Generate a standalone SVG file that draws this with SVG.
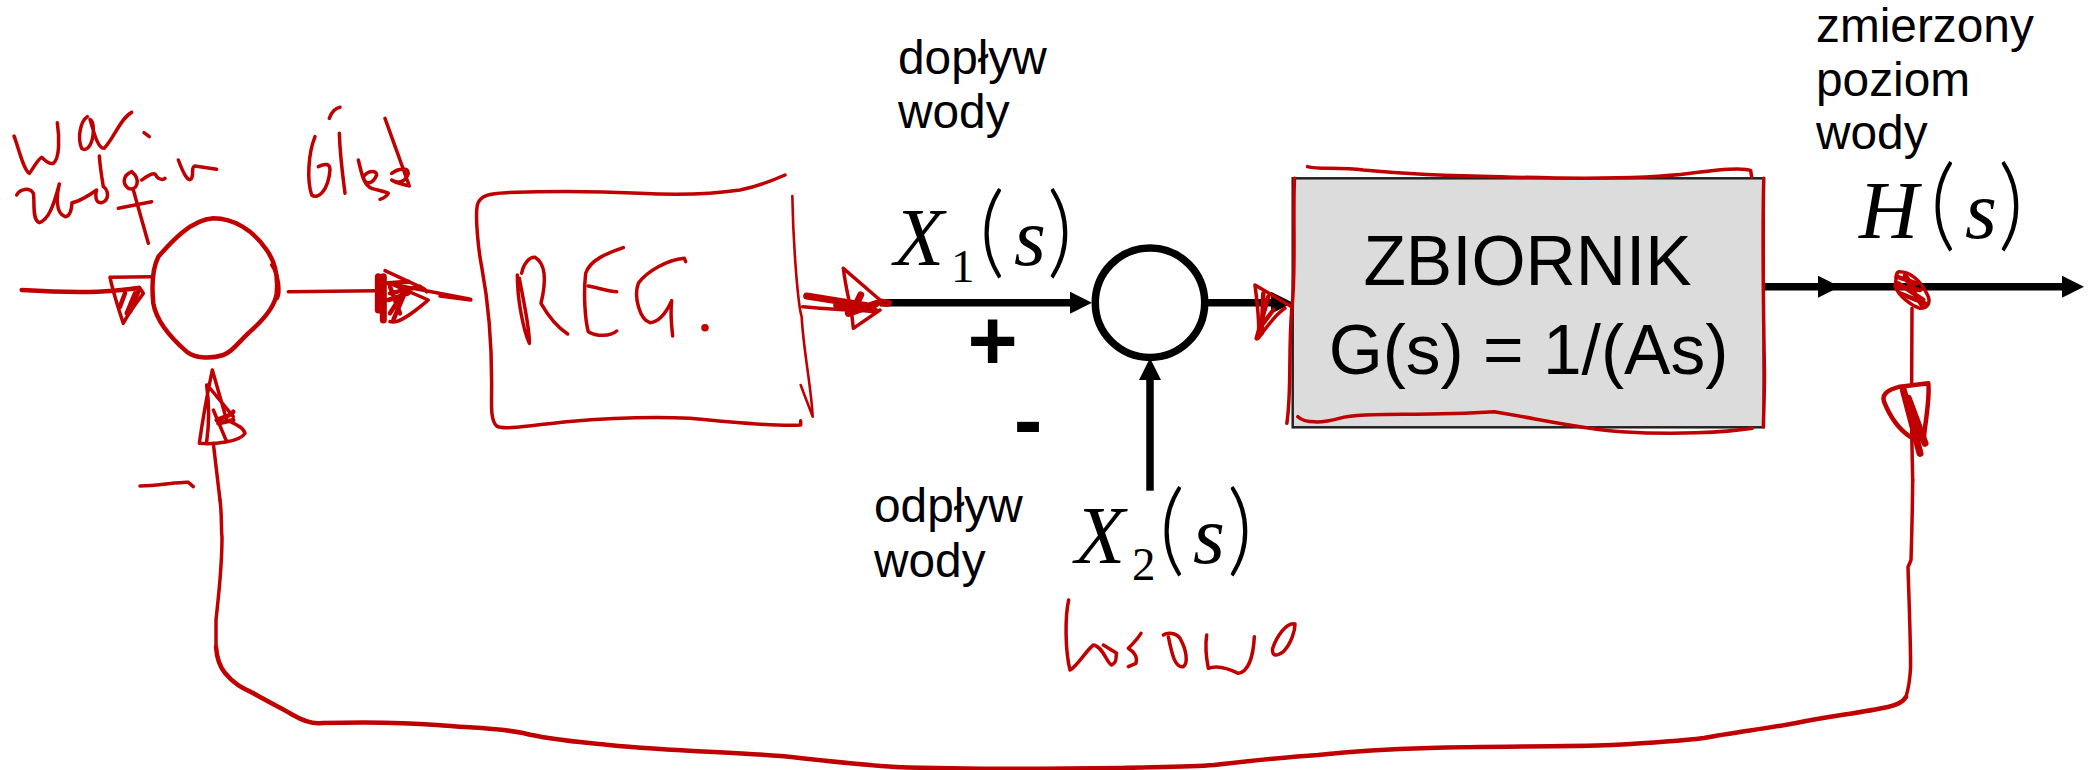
<svg xmlns="http://www.w3.org/2000/svg" width="2096" height="770" viewBox="0 0 2096 770">
<style>
.ink{fill:none;stroke:#c00000;stroke-linecap:round;stroke-linejoin:round;vector-effect:non-scaling-stroke}
.ink path,.ink circle{vector-effect:non-scaling-stroke}
.w2{stroke-width:2.6}.w3{stroke-width:3.5}.w4{stroke-width:4.5}.w6{stroke-width:7}
.wire{fill:none;stroke:#000;stroke-width:7.5}
.lbl{font-family:"Liberation Sans",Arial,sans-serif;font-size:47.8px;fill:#000}
.big{font-family:"Liberation Sans",Arial,sans-serif;font-size:69.5px;fill:#000;text-anchor:middle}
.sign{font-family:"Liberation Sans",Arial,sans-serif;font-size:86px;font-weight:700;fill:#000;text-anchor:middle}
.math{font-family:"Liberation Serif","Times New Roman",serif;fill:#000}
.v{font-style:italic;font-size:82px}
.sub{font-size:47px}
.p{font-family:Lato,"Liberation Sans",sans-serif;font-weight:300;font-size:100px}
</style>
<defs>
<marker id="head" markerUnits="userSpaceOnUse" markerWidth="22" markerHeight="22" viewBox="0 0 22 22" refX="0" refY="11" orient="auto"><path d="M0,0L22,11L0,22Z" fill="#000"/></marker>
</defs>
<g id="connectors">
<path class="wire" d="M880,302.7H1070" marker-end="url(#head)"/>
<path class="wire" d="M1208,302.7H1271" marker-end="url(#head)"/>
<path class="wire" d="M1150,490.7V380" marker-end="url(#head)"/>
<path class="wire" d="M1764,286.7H1818" marker-end="url(#head)"/>
<path class="wire" d="M1830,286.7H2062" marker-end="url(#head)"/>
<g class="ink w3" transform="translate(0,80) scale(.33333)">
<path class="w4" d="M65,630C150,635 250,640 340,632L415,625"/>
<path d="M455,590L330,592C340,640 360,700 370,730C385,700 415,660 430,640L418,622L370,630"/>
<path class="w4" d="M375,640L360,680M415,635L390,695M405,640L380,700"/>
<path d="M865,635L1130,632"/>
<path d="M1155,572L1270,625C1280,630 1275,632 1280,636M1170,725C1200,735 1260,680 1285,660L1170,610M1160,610L1412,658"/>
<path class="w6" d="M1135,590L1135,690M1150,590L1150,720"/>
<path class="w4" d="M1165,610L1225,605M1170,640L1260,620M1170,700L1215,630M1180,720L1210,650M1165,660L1225,640M1170,620L1200,700"/>
<path d="M637,870C620,950 605,1040 598,1090C640,1095 720,1085 735,1060C730,1040 700,1030 680,1020L637,870M620,915C630,990 625,1050 620,1085M622,915L700,1010M640,990L680,1085"/>
<path class="w4" d="M650,1020C670,1010 690,1010 700,995M655,1030L700,1020"/>
<path d="M640,1090L660,1260"/>
</g>
<g class="ink w3" transform="translate(440,150) scale(.33333)">
<path d="M0,438L92,450M1088,470C1150,475 1250,485 1310,480M1210,355C1215,400 1225,440 1235,490L1240,535L1320,480M1210,355L1320,450L1350,455C1352,465 1340,470 1320,460"/>
<path class="w6" d="M1100,438L1300,470M1225,490L1310,460M1240,480L1262,435M1190,465L1300,480"/>
</g>
<g class="ink w3" transform="translate(840,0) scale(.33333)">
<path d="M1245,855L1355,920M1245,855C1250,900 1260,960 1255,1015C1280,980 1310,940 1335,925"/>
<path class="w4" d="M1250,1015L1285,890M1265,1000L1270,880M1258,985L1300,930"/>
</g>
<g class="ink w3" transform="translate(1740,0) scale(.33333)">
<path d="M478,815C465,815 470,840 465,860C480,890 510,915 540,925C565,925 575,905 560,880C540,840 510,815 478,815Z"/>
<path class="w4" d="M470,830L530,850M475,850L550,900M480,880L555,910M495,825L520,860M470,860L540,870M500,840L545,915"/>
<path d="M516,925L515,1150M515,1290L518,1440"/>
<path class="w4" d="M565,1150L480,1160C440,1170 425,1185 432,1205C450,1250 480,1290 510,1310M565,1150C570,1200 555,1270 552,1310"/>
<path class="w6" d="M490,1170L540,1360M505,1195L555,1330"/>
</g>
<path class="ink w3" d="M220,500C222,515 221,530 222,537C222,570 218,600 216,620C216,635 216,640 216,647"/>
<path class="ink w3" d="M1912.7,480C1912.5,500 1912,530 1911,560C1909,565 1908,567 1908,567C1909,600 1910.6,640 1910.6,667C1910,680 1908,690 1906,697"/>
<path class="ink w4" d="M216,647C217,660 220,667 225,673C235,685 243,688 253,693C270,703 282,708 293,715C305,722 315,724 322,723C360,722 400,722 437,725C470,728 500,728 523,733C550,740 580,742 609,745C670,751 730,752 781,756C820,760 860,765 896,767C950,769 1050,769 1122,768C1160,767 1190,767 1214,765C1250,761 1285,757 1318,755C1355,751 1390,749 1429,748C1490,746 1560,747 1612,745C1650,743 1680,741 1704,738C1735,732 1765,729 1796,723C1830,716 1860,713 1888,707C1897,705 1903,702 1906,697"/>
</g>
<g id="sum-controller">
<g class="ink w4" transform="translate(0,80) scale(.33333)">
<path d="M640,415C700,415 760,450 800,510C825,545 835,590 830,640C825,680 790,720 750,755C720,780 700,815 670,825C640,835 590,838 560,815C520,780 470,730 460,670C455,620 455,570 475,530C510,490 570,420 640,415Z"/>
<path class="w3" d="M815,555C840,590 840,640 832,655"/>
</g>
</g>
<g id="note-war-zadany">
<g class="ink w3" transform="translate(0,80) scale(.33333)">
<path d="M42,168C55,200 70,270 88,280C100,265 115,235 125,232C135,240 145,255 160,250C180,235 178,170 172,128"/>
<path d="M262,110C240,125 232,175 245,205C262,218 280,190 280,150C280,130 275,120 270,118C285,170 295,205 312,205C340,180 360,115 395,97"/>
<path d="M432,158L448,170"/>
<path d="M50,345C60,325 90,322 100,340C105,365 95,420 118,428C145,420 160,380 178,312C170,345 165,400 195,410C212,410 215,385 216,368C235,365 270,345 290,330C285,345 285,370 305,368C330,360 325,330 310,320C305,290 300,260 298,228"/>
<path d="M395,275C370,285 365,310 385,325C410,335 425,300 395,275M400,330L445,490M355,385L455,365"/>
<path d="M425,300C440,290 465,270 470,290C480,300 490,300 495,295M535,240C550,280 565,310 575,295C582,280 572,260 585,258L650,268"/>
<path d="M420,1218C470,1218 540,1205 565,1207L580,1220"/>
</g>
</g>
<g id="note-glad">
<g class="ink w3" transform="translate(0,80) scale(.33333)">
<path d="M945,170C925,220 920,300 935,345C955,360 985,330 990,270C990,250 975,250 955,260M988,115C995,95 1005,85 1020,82"/>
<path d="M1018,160C1020,230 1030,300 1035,340"/>
<path d="M1075,240C1085,280 1090,315 1115,325M1090,290C1105,270 1130,270 1130,285C1120,310 1095,320 1090,290M1115,325C1130,330 1160,335 1165,340C1160,350 1150,355 1140,358"/>
<path d="M1175,280C1195,265 1225,260 1225,280C1215,310 1190,310 1175,300C1185,310 1220,315 1228,318L1155,115"/>
</g>
</g>
<g id="regulator">
<g class="ink w3" transform="translate(440,150) scale(.33333)">
<path d="M1035,75C990,95 950,110 900,120C800,135 700,135 600,130C500,125 350,122 200,128C150,130 120,135 112,165C105,200 115,300 125,350C140,430 155,560 155,700C155,760 150,810 170,828C190,842 280,825 380,815C500,805 650,800 750,805C850,815 1000,830 1082,825L1082,812"/>
<path class="w2" d="M1057,138C1060,300 1075,470 1085,500C1090,600 1115,720 1118,800L1082,705"/>
<path d="M245,370C250,340 270,320 285,322C315,340 320,390 303,460C320,490 350,530 383,552M232,375C232,450 250,540 268,580C270,540 250,450 238,385"/>
<path d="M550,293C500,310 450,330 437,370C430,430 435,510 445,545C470,560 510,560 530,543M445,408C480,415 510,425 530,425"/>
<path d="M737,335L733,325C680,330 620,365 595,400C580,440 600,510 630,518C660,515 680,485 695,452C690,490 695,530 698,558"/>
<circle cx="795" cy="533" r="6" fill="#c00000"/>
</g>
</g>
<g id="sum-process">
<circle cx="1150" cy="302.7" r="54.7" fill="#fff" stroke="#000" stroke-width="7.5"/>
</g>
<g id="tank">
<rect x="1292.7" y="178.3" width="471" height="249" fill="#dcdcdc" stroke="#222" stroke-width="2.5"/>
<text class="big" x="1527.5" y="285">ZBIORNIK</text>
<text class="big" x="1528.5" y="374">G(s) = 1/(As)</text>
<g class="ink w3" transform="translate(1260,140) scale(.34435,.33333)">
<path d="M138,80C170,90 230,80 300,90C400,100 550,108 700,110C850,115 1100,120 1250,100C1320,90 1400,80 1425,92L1428,112"/>
<path d="M100,115C95,250 105,400 92,510C82,650 92,750 78,850"/>
<path d="M110,830C130,850 180,850 230,835C300,815 450,830 680,815C800,835 950,870 1050,875C1200,885 1350,878 1430,865"/>
<path d="M1463,115C1458,300 1462,500 1465,700C1465,780 1462,830 1462,860"/>
</g>
</g>
<g id="labels">
<text class="lbl"><tspan x="898" y="74">dopływ</tspan><tspan x="898" y="128">wody</tspan></text>
<text class="lbl"><tspan x="874" y="522">odpływ</tspan><tspan x="874" y="577">wody</tspan></text>
<text class="lbl"><tspan x="1816" y="42">zmierzony</tspan><tspan x="1816" y="96">poziom</tspan><tspan x="1816" y="149">wody</tspan></text>
<text class="sign" x="992.5" y="370">+</text>
<text class="sign" x="1028" y="449">-</text>
<text class="math" y="265"><tspan class="v" x="894">X</tspan><tspan class="sub" x="951" y="281.7">1</tspan><tspan class="p" x="979" y="265">(</tspan><tspan class="v" x="1014" y="265">s</tspan><tspan class="p" x="1047" y="265">)</tspan></text>
<text class="math" y="563"><tspan class="v" x="1075">X</tspan><tspan class="sub" x="1132" y="580">2</tspan><tspan class="p" x="1159" y="563">(</tspan><tspan class="v" x="1193" y="563">s</tspan><tspan class="p" x="1227" y="563">)</tspan></text>
<text class="math" y="238"><tspan class="v" x="1859">H</tspan><tspan class="p" x="1930" y="238">(</tspan><tspan class="v" x="1965" y="238">s</tspan><tspan class="p" x="1998" y="238">)</tspan></text>
</g>
<g id="note-wsowo">
<g class="ink w3" transform="translate(840,400) scale(.33333)">
<path d="M686,600C675,650 675,750 690,810C710,800 740,750 760,735C790,740 800,790 815,795C835,785 825,770 830,760L790,735"/>
<path d="M903,700C890,720 870,740 865,745C880,755 895,770 888,790L865,800"/>
<path d="M970,705C985,695 1010,700 1020,715C1040,750 1045,790 1030,800C1005,805 995,760 985,710"/>
<path d="M1100,705C1095,740 1100,780 1105,805C1130,795 1165,805 1195,820C1225,815 1240,770 1243,710"/>
<path d="M1365,672C1340,665 1310,710 1298,745C1295,770 1310,770 1330,755C1355,730 1365,690 1365,672Z"/>
</g>
</g>
</svg>
